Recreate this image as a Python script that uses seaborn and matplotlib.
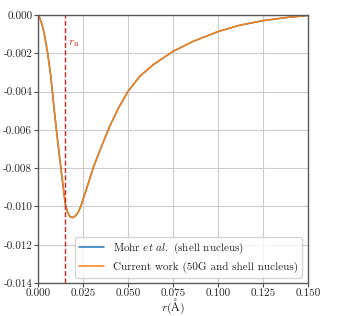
import numpy as np
import pandas as pd
import seaborn as sns
import matplotlib
matplotlib.use("Agg")
import matplotlib.pyplot as plt
from matplotlib.ticker import FormatStrFormatter

# Data
r_values = [0.0, 0.0007, 0.0020, 0.0035, 0.0054, 0.0072, 0.0091, 0.0109, 0.0128, 0.0141,
            0.0152, 0.0165, 0.0178, 0.0193, 0.0208, 0.0224, 0.0238, 0.0252, 0.0280,
            0.0307, 0.0335, 0.0363, 0.0400, 0.0446, 0.0500, 0.0567, 0.0641, 0.0752,
            0.0863, 0.1002, 0.1122, 0.1252, 0.1380, 0.1500]
energy = [0.0, -0.00009, -0.00040, -0.00096, -0.00197, -0.00320, -0.00497, -0.00650,
          -0.00800, -0.00900, -0.00986, -0.01030, -0.01052, -0.01058, -0.01050, -0.01030,
          -0.01000, -0.00960, -0.00880, -0.00800, -0.00730, -0.00665, -0.00580, -0.00490,
          -0.00400, -0.00320, -0.00260, -0.00190, -0.00138, -0.00087, -0.00054, -0.00030,
          -0.00014, -0.00003]
r_nucleus = 0.0152
series_labels = ["Mohr $et\\ al.$ (shell nucleus)", "Current work (50G and shell nucleus)"]

sns.set_style("whitegrid")
plt.rcParams["font.family"] = ["cmr10", "DejaVu Serif"]
plt.rcParams["mathtext.fontset"] = "cm"
plt.rcParams["axes.formatter.use_mathtext"] = True
plt.rcParams["axes.unicode_minus"] = True

fig = plt.figure(figsize=(3.38, 3.16), dpi=100)
ax = fig.add_axes([0.112, 0.104, 0.799, 0.849])

df = pd.DataFrame({"r": r_values, "E": energy})
sns.lineplot(data=df, x="r", y="E", ax=ax, color="#1f77b4", lw=1.1, label=series_labels[0])
sns.lineplot(data=df, x="r", y="E", ax=ax, color="#ff7f0e", lw=1.1, label=series_labels[1])

ax.axvline(r_nucleus, color="#d62728", ls="--", lw=1.0)
ax.text(r_nucleus + 0.0015, -0.0016, "$r_\\mathrm{n}$", color="#d62728", fontsize=8)

ax.set_xlim(0, 0.15)
ax.set_ylim(-0.014, 0.0)
ax.set_xticks(np.arange(0, 0.1501, 0.025))
ax.set_yticks(np.arange(-0.014, 0.0001, 0.002))
ax.xaxis.set_major_formatter(FormatStrFormatter("%.3f"))
ax.yaxis.set_major_formatter(FormatStrFormatter("%.3f"))
ax.tick_params(axis="both", labelsize=8, length=3, width=0.8, color="0.3", pad=1)
ax.tick_params(axis="x", bottom=True)
ax.tick_params(axis="y", left=True)
ax.set_xlabel("$r(\\mathrm{\\AA})$", fontsize=8.5, labelpad=-1)
ax.set_ylabel("")
ax.grid(True, color="0.8", lw=0.8)
for s in ax.spines.values():
    s.set_color("0.35")
    s.set_linewidth(1.0)

leg = ax.legend(loc="lower right", fontsize=8, frameon=True, framealpha=0.8,
                handlelength=2.2, borderpad=0.4, labelspacing=0.5)

fig.savefig("out.png", dpi=100)
